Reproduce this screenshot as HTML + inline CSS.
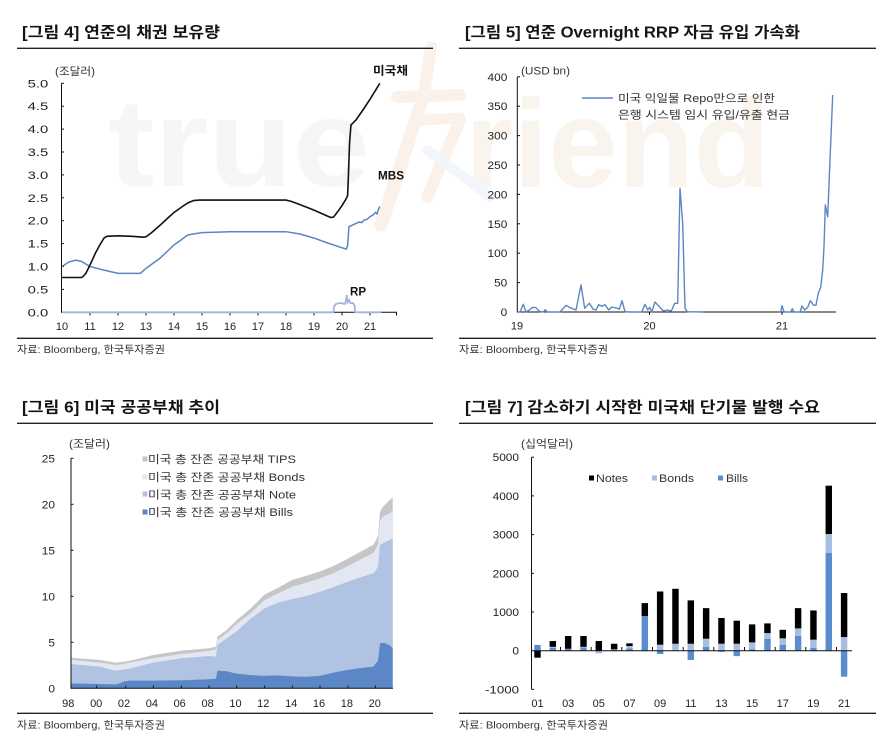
<!DOCTYPE html>
<html><head><meta charset="utf-8">
<style>
html,body{margin:0;padding:0;background:#fff}
svg{display:block}
text{font-family:"Liberation Sans","Noto Sans CJK KR",sans-serif;fill:#222}
.t{font-size:15.5px;font-weight:bold;fill:#151515}
.s{font-size:10.5px;fill:#333}
.n{font-size:11px;fill:#222}
.g{fill:#4a4a4a}
.k{font-size:11px;fill:#333}
.b{font-size:11.5px;font-weight:bold;fill:#111}
</style></head>
<body>
<svg width="891" height="747" viewBox="0 0 891 747" xmlns="http://www.w3.org/2000/svg">
<rect width="891" height="747" fill="#fff"/>

<!-- watermark -->
<text x="108" y="186" font-size="125" font-weight="bold" style="fill:#f8f6f4" textLength="262" lengthAdjust="spacingAndGlyphs">true</text>
<text x="465" y="187" font-size="125" font-weight="bold" style="fill:#faf4ef" textLength="305" lengthAdjust="spacingAndGlyphs">riend</text>
<g stroke-linecap="round" fill="none">
<line x1="431" y1="47" x2="423" y2="100" stroke="#faf1ea" stroke-width="12"/>
<line x1="397" y1="97" x2="460" y2="95" stroke="#faf1ea" stroke-width="12"/>
<line x1="423" y1="98" x2="381" y2="225" stroke="#faf1ea" stroke-width="13"/>
<line x1="423" y1="120" x2="460" y2="118" stroke="#faf1ea" stroke-width="11"/>
<line x1="460" y1="120" x2="427" y2="197" stroke="#faf1ea" stroke-width="12"/>
<path d="M427,150 Q455,170 490,197" stroke="#f2f5fa" stroke-width="10"/>
</g>

<!-- titles -->
<text class="t" x="22" y="37.5" textLength="198" lengthAdjust="spacingAndGlyphs">[그림 4] 연준의 채권 보유량</text>
<text class="t" x="465" y="37.5" textLength="335" lengthAdjust="spacingAndGlyphs">[그림 5] 연준 Overnight RRP 자금 유입 가속화</text>
<text class="t" x="22" y="412.5" textLength="198" lengthAdjust="spacingAndGlyphs">[그림 6] 미국 공공부채 추이</text>
<text class="t" x="465" y="412.5" textLength="355" lengthAdjust="spacingAndGlyphs">[그림 7] 감소하기 시작한 미국채 단기물 발행 수요</text>

<g stroke="#222" stroke-width="1.3">
<line x1="17" y1="48.3" x2="433" y2="48.3"/>
<line x1="459" y1="48.3" x2="876" y2="48.3"/>
<line x1="17" y1="338.3" x2="433" y2="338.3"/>
<line x1="459" y1="338.3" x2="876" y2="338.3"/>
<line x1="17" y1="423.3" x2="433" y2="423.3"/>
<line x1="459" y1="423.3" x2="876" y2="423.3"/>
<line x1="17" y1="713.3" x2="433" y2="713.3"/>
<line x1="459" y1="713.3" x2="876" y2="713.3"/>
</g>

<text class="s" x="17" y="353" textLength="148" lengthAdjust="spacingAndGlyphs">자료: Bloomberg, 한국투자증권</text>
<text class="s" x="459" y="353" textLength="149" lengthAdjust="spacingAndGlyphs">자료: Bloomberg, 한국투자증권</text>
<text class="s" x="17" y="728.5" textLength="148" lengthAdjust="spacingAndGlyphs">자료: Bloomberg, 한국투자증권</text>
<text class="s" x="459" y="728.5" textLength="149" lengthAdjust="spacingAndGlyphs">자료: Bloomberg, 한국투자증권</text>

<!-- ================= Chart 1 ================= -->
<text class="k" x="55" y="75" textLength="40" lengthAdjust="spacingAndGlyphs">(조달러)</text>
<g class="n">
<text x="27.7" y="87.3" textLength="20.6" lengthAdjust="spacingAndGlyphs">5.0</text>
<text x="27.7" y="110.2" textLength="20.6" lengthAdjust="spacingAndGlyphs">4.5</text>
<text x="27.7" y="133.1" textLength="20.6" lengthAdjust="spacingAndGlyphs">4.0</text>
<text x="27.7" y="156.0" textLength="20.6" lengthAdjust="spacingAndGlyphs">3.5</text>
<text x="27.7" y="178.9" textLength="20.6" lengthAdjust="spacingAndGlyphs">3.0</text>
<text x="27.7" y="201.8" textLength="20.6" lengthAdjust="spacingAndGlyphs">2.5</text>
<text x="27.7" y="224.7" textLength="20.6" lengthAdjust="spacingAndGlyphs">2.0</text>
<text x="27.7" y="247.6" textLength="20.6" lengthAdjust="spacingAndGlyphs">1.5</text>
<text x="27.7" y="270.5" textLength="20.6" lengthAdjust="spacingAndGlyphs">1.0</text>
<text x="27.7" y="293.4" textLength="20.6" lengthAdjust="spacingAndGlyphs">0.5</text>
<text x="27.7" y="316.3" textLength="20.6" lengthAdjust="spacingAndGlyphs">0.0</text>
</g>
<g class="n" text-anchor="middle">
<text x="62" y="330">10</text><text x="90" y="330">11</text><text x="118" y="330">12</text>
<text x="146" y="330">13</text><text x="174" y="330">14</text><text x="202" y="330">15</text>
<text x="230" y="330">16</text><text x="258" y="330">17</text><text x="286" y="330">18</text>
<text x="314" y="330">19</text><text x="342" y="330">20</text><text x="370" y="330">21</text>
</g>
<g stroke="#111" stroke-width="1">
<line x1="61.5" y1="83.3" x2="61.5" y2="312.8"/>
<line x1="61.5" y1="312.3" x2="397" y2="312.3"/>
<line x1="61.5" y1="83.3" x2="64" y2="83.3"/><line x1="61.5" y1="106.2" x2="64" y2="106.2"/>
<line x1="61.5" y1="129.1" x2="64" y2="129.1"/><line x1="61.5" y1="152" x2="64" y2="152"/>
<line x1="61.5" y1="174.9" x2="64" y2="174.9"/><line x1="61.5" y1="197.8" x2="64" y2="197.8"/>
<line x1="61.5" y1="220.7" x2="64" y2="220.7"/><line x1="61.5" y1="243.6" x2="64" y2="243.6"/>
<line x1="61.5" y1="266.5" x2="64" y2="266.5"/><line x1="61.5" y1="289.4" x2="64" y2="289.4"/>
<line x1="90" y1="312.3" x2="90" y2="315.5"/><line x1="118" y1="312.3" x2="118" y2="315.5"/>
<line x1="146" y1="312.3" x2="146" y2="315.5"/><line x1="174" y1="312.3" x2="174" y2="315.5"/>
<line x1="202" y1="312.3" x2="202" y2="315.5"/><line x1="230" y1="312.3" x2="230" y2="315.5"/>
<line x1="258" y1="312.3" x2="258" y2="315.5"/><line x1="286" y1="312.3" x2="286" y2="315.5"/>
<line x1="314" y1="312.3" x2="314" y2="315.5"/><line x1="342" y1="312.3" x2="342" y2="315.5"/>
<line x1="370" y1="312.3" x2="370" y2="315.5"/><line x1="396.5" y1="312.3" x2="396.5" y2="315.5"/>
</g>
<g transform="translate(62,312.3) scale(28,-45.8)" fill="none">
<polyline vector-effect="non-scaling-stroke" stroke="#a3b5db" stroke-width="1.8" points="0,0 9.69,0 9.72,0.13 9.78,0.18 9.9,0.2 10.0,0.2 10.08,0.18 10.12,0.2 10.15,0.3 10.17,0.38 10.2,0.22 10.25,0.27 10.3,0.2 10.4,0.2 10.45,0.15 10.47,0 11.4,0"/>
<polyline vector-effect="non-scaling-stroke" stroke="#5a86c5" stroke-width="1.5" points="0,1.0 0.25,1.1 0.5,1.14 0.7,1.11 1,1.0 1.5,0.92 2,0.85 2.8,0.85 3,0.96 3.5,1.18 4,1.47 4.5,1.69 5,1.74 6,1.76 7,1.76 8,1.76 8.5,1.71 9,1.62 9.5,1.51 10.15,1.38 10.2,1.45 10.25,1.87 10.5,1.94 10.6,1.97 10.7,1.96 10.8,2.02 10.9,2.03 11,2.09 11.1,2.12 11.2,2.18 11.25,2.15 11.3,2.25 11.35,2.31"/>
<polyline vector-effect="non-scaling-stroke" stroke="#111" stroke-width="1.6" points="0,0.76 0.7,0.76 0.75,0.78 0.85,0.85 0.95,0.97 1.05,1.1 1.2,1.3 1.35,1.47 1.5,1.62 1.6,1.66 2,1.67 2.5,1.66 2.9,1.64 3,1.65 3.2,1.74 3.5,1.9 3.8,2.07 4,2.18 4.3,2.31 4.5,2.39 4.7,2.44 4.9,2.45 8,2.45 8.2,2.42 8.5,2.35 9,2.23 9.3,2.15 9.6,2.07 9.7,2.08 9.85,2.2 10,2.33 10.15,2.48 10.2,2.55 10.23,3.0 10.27,3.7 10.32,4.09 10.5,4.2 10.75,4.42 11,4.65 11.2,4.85 11.35,5.0"/>
</g>
<text class="b" x="373" y="74.5" textLength="35" lengthAdjust="spacingAndGlyphs">미국채</text>
<text class="b" x="378" y="179.5" textLength="26" lengthAdjust="spacingAndGlyphs">MBS</text>
<text class="b" x="350" y="295.5" textLength="16" lengthAdjust="spacingAndGlyphs">RP</text>

<!-- ================= Chart 2 ================= -->
<text class="k" x="521" y="74.5" textLength="49" lengthAdjust="spacingAndGlyphs">(USD bn)</text>
<g class="n g" text-anchor="end">
<text x="507.3" y="80.8" textLength="19.8" lengthAdjust="spacingAndGlyphs">400</text>
<text x="507.3" y="110.2" textLength="19.8" lengthAdjust="spacingAndGlyphs">350</text>
<text x="507.3" y="139.6" textLength="19.8" lengthAdjust="spacingAndGlyphs">300</text>
<text x="507.3" y="169" textLength="19.8" lengthAdjust="spacingAndGlyphs">250</text>
<text x="507.3" y="198.4" textLength="19.8" lengthAdjust="spacingAndGlyphs">200</text>
<text x="507.3" y="227.8" textLength="19.8" lengthAdjust="spacingAndGlyphs">150</text>
<text x="507.3" y="257.2" textLength="19.8" lengthAdjust="spacingAndGlyphs">100</text>
<text x="507.3" y="286.6" textLength="13.2" lengthAdjust="spacingAndGlyphs">50</text>
<text x="507.3" y="316" textLength="6.6" lengthAdjust="spacingAndGlyphs">0</text>
</g>
<g class="n g" text-anchor="middle">
<text x="517" y="329.5">19</text><text x="649.5" y="329.5">20</text><text x="782" y="329.5">21</text>
</g>
<g stroke="#111" stroke-width="1">
<line x1="517.3" y1="77" x2="517.3" y2="312.5"/>
<line x1="517.3" y1="312" x2="836" y2="312"/>
<line x1="517.3" y1="76.8" x2="520" y2="76.8"/><line x1="517.3" y1="106.2" x2="520" y2="106.2"/>
<line x1="517.3" y1="135.6" x2="520" y2="135.6"/><line x1="517.3" y1="165" x2="520" y2="165"/>
<line x1="517.3" y1="194.4" x2="520" y2="194.4"/><line x1="517.3" y1="223.8" x2="520" y2="223.8"/>
<line x1="517.3" y1="253.2" x2="520" y2="253.2"/><line x1="517.3" y1="282.6" x2="520" y2="282.6"/>
<line x1="649.5" y1="312" x2="649.5" y2="315"/><line x1="782" y1="312" x2="782" y2="315"/>
</g>
<g fill="none" stroke="#5a87c5" stroke-width="1.4" stroke-linejoin="round">
<polyline points="517.3,312 520,312 523.3,304.3 526,312 529.3,310 532.7,307.3 536,307.7 539.3,311.3 543.3,312 545.3,309.7 547.3,312 560,312 566,305.3 570,307.7 576,310 581,285 584.7,308.3 589.3,303.3 593.3,309.3 596,310 598.7,304.7 602,306.3 605,304.7 608.7,310 611.7,307 617.3,308.3 619.3,309.3 622,300.7 625,311.7 630,312 641.7,312 645,304.3 647.7,310 649.7,307.3 651.7,312 655,302 659.3,306.7 663.3,311 667.3,310 671.3,311 674.7,303.3 677.7,303.3 680,188.3 682.7,223.3 685,308.3 687.3,311.7 703.3,312"/>
<polyline points="779,312 780.7,312 782,305.7 784,312 790.7,312 792.3,308.7 794,312 800,312 802,306 804.7,310 807.7,307.3 810.3,300.7 813.3,305 816,305.3 818.3,293.3 820.7,287.3 822.7,270 824,246.7 825.3,205 827.7,216.7 830,160 832.7,95"/>
<line x1="582" y1="98" x2="613" y2="98"/>
</g>
<text class="k" x="618" y="102" textLength="157" lengthAdjust="spacingAndGlyphs">미국 익일물 Repo만으로 인한</text>
<text class="k" x="618" y="118.5" textLength="172" lengthAdjust="spacingAndGlyphs">은행 시스템 임시 유입/유출 현금</text>

<!-- ================= Chart 3 ================= -->
<text class="k" x="69" y="447.5" textLength="41" lengthAdjust="spacingAndGlyphs">(조달러)</text>
<g transform="translate(68.8,688.3) scale(13.93,-9.2)" stroke="none">
<polygon fill="#c6c6c6" points="0.16,3.33 2.24,3.08 3.3,2.8 3.5,2.8 4.0,2.9 4.4,3.0 6.07,3.62 8.08,4.1 10.07,4.35 10.57,4.53 10.66,5.6 11.33,6.34 12.05,7.4 13.0,8.6 14.06,10.2 15.0,10.9 16.04,11.78 17.0,12.2 18.03,12.7 19.0,13.3 20.04,14.1 21.0,14.9 21.86,15.6 22.05,16.1 22.2,16.6 22.34,19.2 22.6,19.8 23.0,20.4 23.25,20.8 23.25,0 0.16,0"/>
<polygon fill="#e3e7f3" points="0.16,3.08 2.24,2.8 3.3,2.54 3.5,2.55 4.0,2.65 4.4,2.8 6.07,3.26 8.08,3.73 10.07,4.06 10.57,4.24 10.66,5.25 11.33,5.98 12.05,7.0 13.0,8.1 14.06,9.6 15.0,10.3 16.04,11.05 17.0,11.45 18.03,11.95 19.0,12.5 20.04,13.3 21.0,14.05 21.86,14.7 22.05,15.2 22.2,15.7 22.34,18.3 22.6,18.7 23.0,19.0 23.25,19.2 23.25,0 0.16,0"/>
<polygon fill="#b1c3e2" points="0.16,2.64 2.24,2.36 3.3,1.92 3.5,1.95 4.0,2.05 4.4,2.17 6.07,2.79 8.08,3.26 10.07,3.51 10.57,3.44 10.66,4.7 11.33,5.43 12.05,6.2 13.0,7.5 14.06,8.7 15.0,9.3 16.04,9.71 17.0,10.0 18.03,10.5 19.0,11.0 20.04,11.6 21.0,12.1 21.86,12.5 22.05,12.86 22.2,13.2 22.34,15.6 22.6,15.8 23.0,16.1 23.25,16.3 23.25,0 0.16,0"/>
<polygon fill="#5c87c6" points="0.16,0.54 2.24,0.47 3.3,0.43 3.5,0.45 4.0,0.75 4.4,0.83 6.07,0.83 8.08,0.87 10.07,0.98 10.57,1.05 10.66,1.92 11.33,1.85 12.05,1.6 13.0,1.45 14.06,1.35 15.0,1.4 16.04,1.3 17.0,1.25 18.03,1.35 19.0,1.7 20.04,2.0 21.0,2.2 21.86,2.35 22.05,2.72 22.2,3.0 22.34,4.9 22.6,4.95 23.0,4.7 23.25,4.4 23.25,0 0.16,0"/>
</g>
<g stroke="#111" stroke-width="1">
<line x1="71" y1="458.3" x2="71" y2="688.8"/>
<line x1="71" y1="688.3" x2="393" y2="688.3"/>
<line x1="71" y1="458.3" x2="73.5" y2="458.3"/><line x1="71" y1="504.3" x2="73.5" y2="504.3"/>
<line x1="71" y1="550.3" x2="73.5" y2="550.3"/><line x1="71" y1="596.3" x2="73.5" y2="596.3"/>
<line x1="71" y1="642.3" x2="73.5" y2="642.3"/>
<line x1="96.7" y1="688.3" x2="96.7" y2="685.5"/><line x1="125.7" y1="688.3" x2="125.7" y2="685.5"/>
<line x1="153.3" y1="688.3" x2="153.3" y2="685.5"/><line x1="181.3" y1="688.3" x2="181.3" y2="685.5"/>
<line x1="209" y1="688.3" x2="209" y2="685.5"/><line x1="236.7" y1="688.3" x2="236.7" y2="685.5"/>
<line x1="264.7" y1="688.3" x2="264.7" y2="685.5"/><line x1="292.3" y1="688.3" x2="292.3" y2="685.5"/>
<line x1="320" y1="688.3" x2="320" y2="685.5"/><line x1="348" y1="688.3" x2="348" y2="685.5"/>
<line x1="375.3" y1="688.3" x2="375.3" y2="685.5"/>
</g>
<g class="n" text-anchor="end">
<text x="55" y="462.3" textLength="13.2" lengthAdjust="spacingAndGlyphs">25</text>
<text x="55" y="508.3" textLength="13.2" lengthAdjust="spacingAndGlyphs">20</text>
<text x="55" y="554.3" textLength="13.2" lengthAdjust="spacingAndGlyphs">15</text>
<text x="55" y="600.3" textLength="13.2" lengthAdjust="spacingAndGlyphs">10</text>
<text x="55" y="646.3" textLength="6.6" lengthAdjust="spacingAndGlyphs">5</text>
<text x="55" y="692.3" textLength="6.6" lengthAdjust="spacingAndGlyphs">0</text>
</g>
<g class="n" text-anchor="middle">
<text x="68.3" y="707">98</text><text x="96.2" y="707">00</text><text x="124" y="707">02</text>
<text x="151.9" y="707">04</text><text x="179.7" y="707">06</text><text x="207.6" y="707">08</text>
<text x="235.5" y="707">10</text><text x="263.3" y="707">12</text><text x="291.2" y="707">14</text>
<text x="319" y="707">16</text><text x="346.9" y="707">18</text><text x="374.8" y="707">20</text>
</g>
<rect x="142.5" y="456.5" width="5" height="5" fill="#c6c6c6"/>
<rect x="142.5" y="474.5" width="5" height="5" fill="#e3e7f3"/>
<rect x="142.5" y="491.5" width="5" height="5" fill="#b1c3e2"/>
<rect x="142.5" y="509.5" width="5" height="5" fill="#5c87c6"/>
<text class="k" x="148" y="463" textLength="148" lengthAdjust="spacingAndGlyphs">미국 총 잔존 공공부채 TIPS</text>
<text class="k" x="148" y="481" textLength="157" lengthAdjust="spacingAndGlyphs">미국 총 잔존 공공부채 Bonds</text>
<text class="k" x="148" y="498.5" textLength="148" lengthAdjust="spacingAndGlyphs">미국 총 잔존 공공부채 Note</text>
<text class="k" x="148" y="516" textLength="145" lengthAdjust="spacingAndGlyphs">미국 총 잔존 공공부채 Bills</text>

<!-- ================= Chart 4 ================= -->
<text class="k" x="521" y="447.5" textLength="52" lengthAdjust="spacingAndGlyphs">(십억달러)</text>
<g class="n g" text-anchor="end">
<text x="519" y="461.2" textLength="26.4" lengthAdjust="spacingAndGlyphs">5000</text>
<text x="519" y="499.9" textLength="26.4" lengthAdjust="spacingAndGlyphs">4000</text>
<text x="519" y="538.6" textLength="26.4" lengthAdjust="spacingAndGlyphs">3000</text>
<text x="519" y="577.3" textLength="26.4" lengthAdjust="spacingAndGlyphs">2000</text>
<text x="519" y="616" textLength="26.4" lengthAdjust="spacingAndGlyphs">1000</text>
<text x="519" y="654.7" textLength="6.6" lengthAdjust="spacingAndGlyphs">0</text>
<text x="519" y="693.4" textLength="34" lengthAdjust="spacingAndGlyphs">-1000</text>
</g>
<g class="n g" text-anchor="middle">
<text x="537.5" y="707">01</text><text x="568.2" y="707">03</text><text x="598.8" y="707">05</text>
<text x="629.5" y="707">07</text><text x="660.1" y="707">09</text><text x="690.8" y="707">11</text>
<text x="721.5" y="707">13</text><text x="752.1" y="707">15</text><text x="782.8" y="707">17</text>
<text x="813.4" y="707">19</text><text x="844.1" y="707">21</text>
</g>
<g transform="translate(537.5,650.7) scale(15.33,-0.0387)">
<g fill="#5b8ccb">
<rect x="-0.21" y="0" width="0.42" height="150"/>
<rect x="0.79" y="0" width="0.42" height="70"/>
<rect x="1.79" y="0" width="0.42" height="50"/>
<rect x="2.79" y="0" width="0.42" height="80"/>
<rect x="4.79" y="0" width="0.42" height="40"/>
<rect x="5.79" y="0" width="0.42" height="60"/>
<rect x="6.79" y="0" width="0.42" height="896"/>
<rect x="7.79" y="-85" width="0.42" height="85"/>
<rect x="9.79" y="-240" width="0.42" height="240"/>
<rect x="10.79" y="0" width="0.42" height="100"/>
<rect x="11.79" y="-30" width="0.42" height="30"/>
<rect x="12.79" y="-140" width="0.42" height="140"/>
<rect x="13.79" y="0" width="0.42" height="40"/>
<rect x="14.79" y="0" width="0.42" height="310"/>
<rect x="15.79" y="0" width="0.42" height="155"/>
<rect x="16.79" y="0" width="0.42" height="380"/>
<rect x="17.79" y="0" width="0.42" height="70"/>
<rect x="18.79" y="0" width="0.42" height="2524"/>
<rect x="19.79" y="-672" width="0.42" height="672"/>
</g>
<g fill="#a9bde0">
<rect x="0.79" y="70" width="0.42" height="30"/>
<rect x="2.79" y="80" width="0.42" height="20"/>
<rect x="3.79" y="-70" width="0.42" height="70"/>
<rect x="5.79" y="60" width="0.42" height="60"/>
<rect x="7.79" y="0" width="0.42" height="155"/>
<rect x="8.79" y="0" width="0.42" height="180"/>
<rect x="9.79" y="0" width="0.42" height="180"/>
<rect x="10.79" y="100" width="0.42" height="210"/>
<rect x="11.79" y="0" width="0.42" height="180"/>
<rect x="12.79" y="0" width="0.42" height="180"/>
<rect x="13.79" y="40" width="0.42" height="175"/>
<rect x="14.79" y="310" width="0.42" height="145"/>
<rect x="15.79" y="155" width="0.42" height="165"/>
<rect x="16.79" y="380" width="0.42" height="197"/>
<rect x="17.79" y="70" width="0.42" height="215"/>
<rect x="18.79" y="2524" width="0.42" height="491"/>
<rect x="19.79" y="0" width="0.42" height="353"/>
</g>
<g fill="#000">
<rect x="-0.21" y="-180" width="0.42" height="180"/>
<rect x="0.79" y="100" width="0.42" height="150"/>
<rect x="1.79" y="50" width="0.42" height="330"/>
<rect x="2.79" y="100" width="0.42" height="280"/>
<rect x="3.79" y="0" width="0.42" height="250"/>
<rect x="4.79" y="40" width="0.42" height="140"/>
<rect x="5.79" y="120" width="0.42" height="70"/>
<rect x="6.79" y="896" width="0.42" height="334"/>
<rect x="7.79" y="155" width="0.42" height="1375"/>
<rect x="8.79" y="180" width="0.42" height="1420"/>
<rect x="9.79" y="180" width="0.42" height="1120"/>
<rect x="10.79" y="310" width="0.42" height="790"/>
<rect x="11.79" y="180" width="0.42" height="665"/>
<rect x="12.79" y="180" width="0.42" height="595"/>
<rect x="13.79" y="215" width="0.42" height="465"/>
<rect x="14.79" y="455" width="0.42" height="250"/>
<rect x="15.79" y="320" width="0.42" height="220"/>
<rect x="16.79" y="577" width="0.42" height="523"/>
<rect x="17.79" y="285" width="0.42" height="755"/>
<rect x="18.79" y="3015" width="0.42" height="1249"/>
<rect x="19.79" y="353" width="0.42" height="1137"/>
</g>
</g>
<g stroke="#111" stroke-width="1">
<line x1="531.5" y1="457.2" x2="531.5" y2="689.4"/>
<line x1="531.5" y1="650.7" x2="852" y2="650.7"/>
<line x1="531.5" y1="457.2" x2="534" y2="457.2"/><line x1="531.5" y1="495.9" x2="534" y2="495.9"/>
<line x1="531.5" y1="534.6" x2="534" y2="534.6"/><line x1="531.5" y1="573.3" x2="534" y2="573.3"/>
<line x1="531.5" y1="612" x2="534" y2="612"/><line x1="531.5" y1="689.4" x2="534" y2="689.4"/>
<line x1="560.5" y1="650.7" x2="560.5" y2="647"/><line x1="591.2" y1="650.7" x2="591.2" y2="647"/>
<line x1="621.8" y1="650.7" x2="621.8" y2="647"/><line x1="652.5" y1="650.7" x2="652.5" y2="647"/>
<line x1="683.2" y1="650.7" x2="683.2" y2="647"/><line x1="713.8" y1="650.7" x2="713.8" y2="647"/>
<line x1="744.5" y1="650.7" x2="744.5" y2="647"/><line x1="775.2" y1="650.7" x2="775.2" y2="647"/>
<line x1="805.8" y1="650.7" x2="805.8" y2="647"/><line x1="836.5" y1="650.7" x2="836.5" y2="647"/>
</g>
<rect x="589" y="475.5" width="5" height="5" fill="#000"/>
<rect x="652" y="475.5" width="5" height="5" fill="#a9bde0"/>
<rect x="718" y="475.5" width="5" height="5" fill="#5b8ccb"/>
<text class="k g" x="596" y="482" textLength="32" lengthAdjust="spacingAndGlyphs">Notes</text>
<text class="k g" x="659" y="482" textLength="35" lengthAdjust="spacingAndGlyphs">Bonds</text>
<text class="k g" x="726" y="482" textLength="22" lengthAdjust="spacingAndGlyphs">Bills</text>
</svg>
</body></html>
